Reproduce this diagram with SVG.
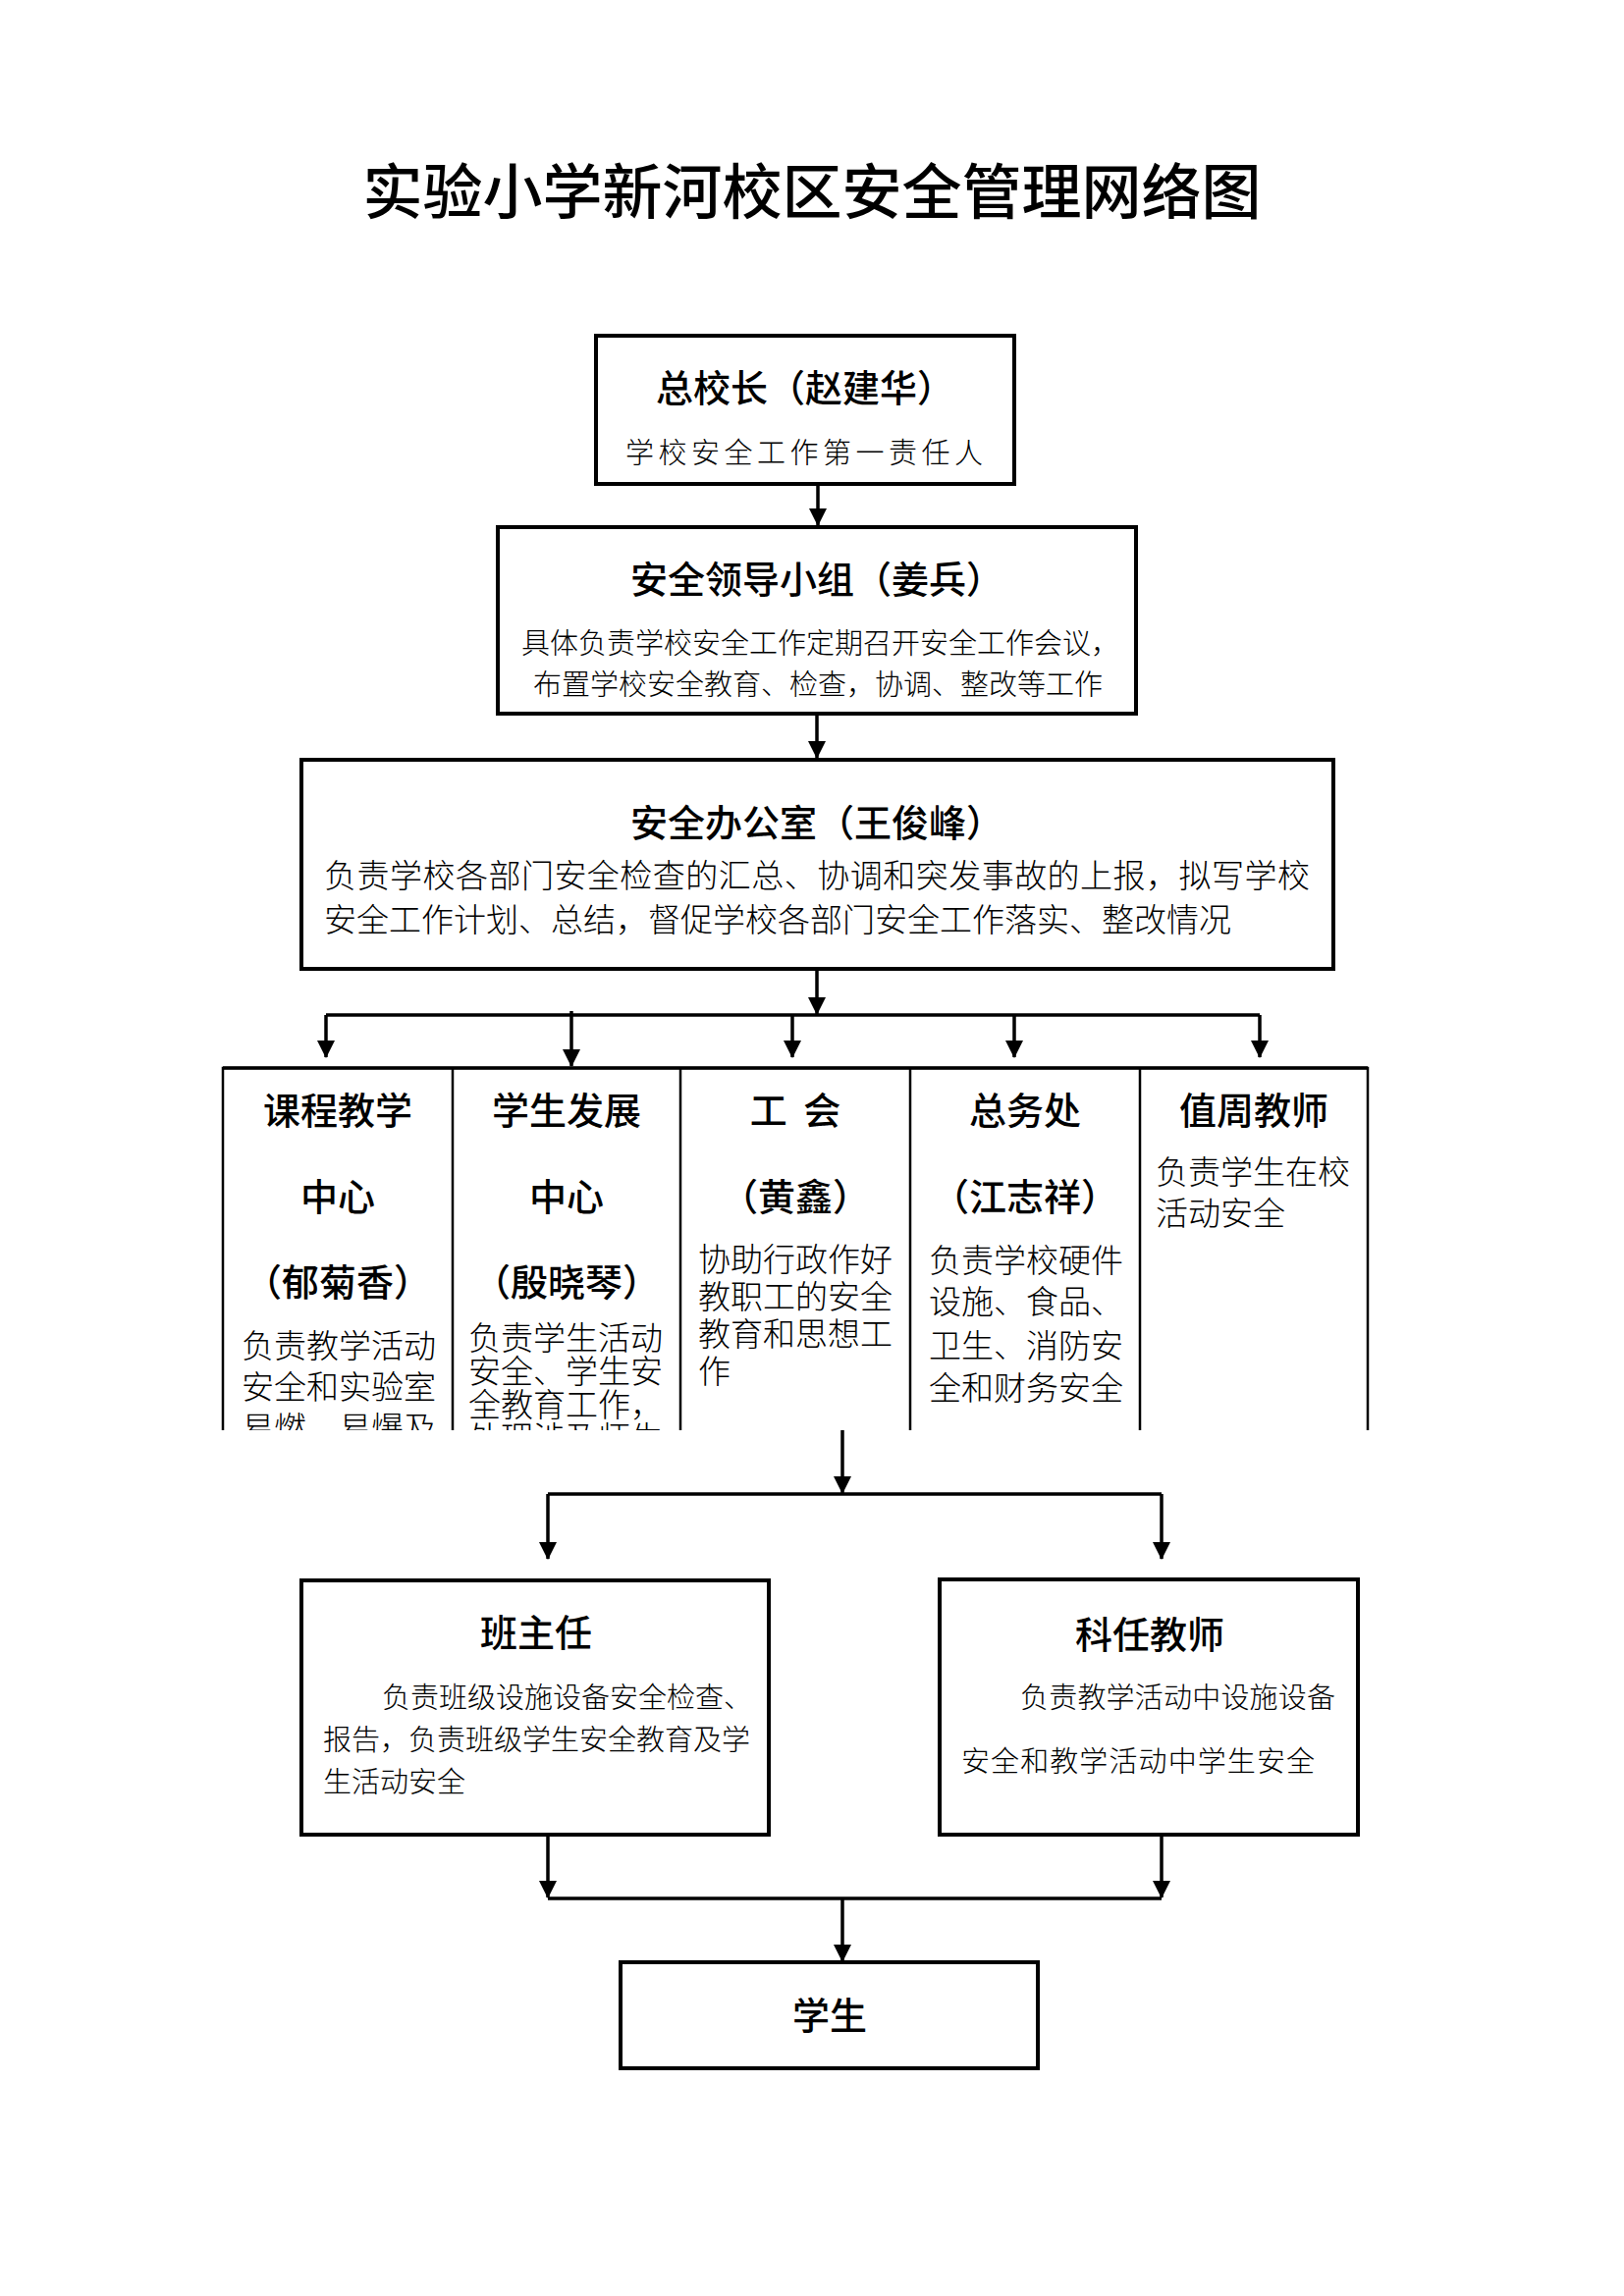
<svg xmlns="http://www.w3.org/2000/svg" width="1654" height="2339" viewBox="0 0 1654 2339">
<style>
  text { font-family: "Noto Sans CJK SC", "Noto Sans", sans-serif; fill: #000; }
  .main { font-size: 61px; font-weight: 500; }
  .t { font-size: 38px; font-weight: 500; }
  .b29 { font-size: 29px; font-weight: 300; }
  .b33 { font-size: 33px; font-weight: 300; }
  .box { fill: #fff; stroke: #000; stroke-width: 4; }
  .col { fill: none; stroke: #000; stroke-width: 2.5; }
  .ln { fill: none; stroke: #000; stroke-width: 3.5; }
  .mid { text-anchor: middle; }
</style>
<defs>
  <marker id="ah" markerUnits="userSpaceOnUse" markerWidth="18" markerHeight="18" refX="17" refY="9" orient="auto">
    <path d="M0,0 L18,9 L0,18 z" fill="#000"/>
  </marker>
  <clipPath id="tblclip"><rect x="200" y="1080" width="1220" height="377"/></clipPath>
</defs>
<rect width="1654" height="2339" fill="#fff"/>

<text class="main mid" x="827" y="218">实验小学新河校区安全管理网络图</text>

<g id="connectors">
  <line class="ln" x1="833" y1="493" x2="833" y2="535" marker-end="url(#ah)"/>
  <line class="ln" x1="832" y1="727" x2="832" y2="772" marker-end="url(#ah)"/>
  <line class="ln" x1="832" y1="987" x2="832" y2="1033" marker-end="url(#ah)"/>
  <polyline class="ln" points="332,1034 1283,1034"/>
  <line class="ln" x1="332" y1="1034" x2="332" y2="1077" marker-end="url(#ah)"/>
  <line class="ln" x1="582" y1="1030" x2="582" y2="1086" marker-end="url(#ah)"/>
  <line class="ln" x1="807" y1="1034" x2="807" y2="1077" marker-end="url(#ah)"/>
  <line class="ln" x1="1033" y1="1034" x2="1033" y2="1077" marker-end="url(#ah)"/>
  <line class="ln" x1="1283" y1="1034" x2="1283" y2="1077" marker-end="url(#ah)"/>
  <line class="ln" x1="858" y1="1457" x2="858" y2="1521" marker-end="url(#ah)"/>
  <polyline class="ln" points="558,1522 1183,1522"/>
  <line class="ln" x1="558" y1="1522" x2="558" y2="1588" marker-end="url(#ah)"/>
  <line class="ln" x1="1183" y1="1522" x2="1183" y2="1588" marker-end="url(#ah)"/>
  <line class="ln" x1="558" y1="1869" x2="558" y2="1933" marker-end="url(#ah)"/>
  <line class="ln" x1="1183" y1="1869" x2="1183" y2="1933" marker-end="url(#ah)"/>
  <polyline class="ln" points="558,1934 1183,1934"/>
  <line class="ln" x1="858" y1="1934" x2="858" y2="1998" marker-end="url(#ah)"/>
</g>

<g id="node-principal">
  <rect class="box" x="607" y="342" width="426" height="151"/>
  <text class="t mid" x="820" y="409">总校长（赵建华）</text>
  <text class="b29" x="637" y="472" textLength="364" lengthAdjust="spacing">学校安全工作第一责任人</text>
</g>

<g id="node-leadership">
  <rect class="box" x="507" y="537" width="650" height="190"/>
  <text class="t mid" x="832" y="604">安全领导小组（姜兵）</text>
  <text class="b29"><tspan x="531" y="666">具体负责学校安全工作定期召开安全工作会议，</tspan><tspan x="543" y="708">布置学校安全教育、检查，协调、整改等工作</tspan></text>
</g>

<g id="node-office">
  <rect class="box" x="307" y="774" width="1051" height="213"/>
  <text class="t mid" x="832" y="852">安全办公室（王俊峰）</text>
  <text class="b33"><tspan x="330" y="904" textLength="1004" lengthAdjust="spacing">负责学校各部门安全检查的汇总、协调和突发事故的上报，拟写学校</tspan><tspan x="330" y="949">安全工作计划、总结，督促学校各部门安全工作落实、整改情况</tspan></text>
</g>

<g id="departments">
  <path class="col" d="M227,1457 V1088 H1393 V1457 M461,1088 V1457 M693,1088 V1457 M927,1088 V1457 M1161,1088 V1457"/>
  <line x1="227" y1="1088" x2="1393" y2="1088" stroke="#000" stroke-width="3.5"/>
  <g clip-path="url(#tblclip)">
    <g id="node-curriculum">
      <text class="t mid"><tspan x="344" y="1145">课程教学</tspan><tspan x="344" y="1233">中心</tspan><tspan x="344" y="1320">（郁菊香）</tspan></text>
      <text class="b33"><tspan x="246" y="1383">负责教学活动</tspan><tspan x="246" y="1425">安全和实验室</tspan><tspan x="246" y="1467">易燃、易爆及</tspan></text>
    </g>
    <g id="node-student-dev">
      <text class="t mid"><tspan x="577" y="1145">学生发展</tspan><tspan x="577" y="1233">中心</tspan><tspan x="577" y="1320">（殷晓琴）</tspan></text>
      <text class="b33"><tspan x="477" y="1375">负责学生活动</tspan><tspan x="477" y="1409">安全、学生安</tspan><tspan x="477" y="1443">全教育工作，</tspan><tspan x="477" y="1477">处理涉及师生</tspan></text>
    </g>
    <g id="node-union">
      <text class="t mid"><tspan x="810" y="1145">工 <tspan dx="8">会</tspan></tspan><tspan x="810" y="1233">（黄鑫）</tspan></text>
      <text class="b33"><tspan x="711" y="1295">协助行政作好</tspan><tspan x="711" y="1333">教职工的安全</tspan><tspan x="711" y="1371">教育和思想工</tspan><tspan x="711" y="1409">作</tspan></text>
    </g>
    <g id="node-general-affairs">
      <text class="t mid"><tspan x="1044" y="1145">总务处</tspan><tspan x="1044" y="1233">（江志祥）</tspan></text>
      <text class="b33"><tspan x="946" y="1296">负责学校硬件</tspan><tspan x="946" y="1338">设施、食品、</tspan><tspan x="946" y="1383">卫生、消防安</tspan><tspan x="946" y="1426">全和财务安全</tspan></text>
    </g>
    <g id="node-duty-teacher">
      <text class="t mid" x="1277" y="1145">值周教师</text>
      <text class="b33"><tspan x="1177" y="1206">负责学生在校</tspan><tspan x="1177" y="1248">活动安全</tspan></text>
    </g>
  </g>
</g>

<g id="node-class-teacher">
  <rect class="box" x="307" y="1610" width="476" height="259"/>
  <text class="t mid" x="546" y="1677">班主任</text>
  <text class="b29"><tspan x="389" y="1740">负责班级设施设备安全检查、</tspan><tspan x="329" y="1783">报告，负责班级学生安全教育及学</tspan><tspan x="329" y="1826">生活动安全</tspan></text>
</g>

<g id="node-subject-teacher">
  <rect class="box" x="957" y="1609" width="426" height="260"/>
  <text class="t mid" x="1171" y="1679">科任教师</text>
  <text class="b29"><tspan x="1039" y="1740" textLength="321" lengthAdjust="spacing">负责教学活动中设施设备</tspan><tspan x="979" y="1805" textLength="360" lengthAdjust="spacing">安全和教学活动中学生安全</tspan></text>
</g>

<g id="node-students">
  <rect class="box" x="632" y="1999" width="425" height="108"/>
  <text class="t mid" x="845" y="2067">学生</text>
</g>
</svg>
